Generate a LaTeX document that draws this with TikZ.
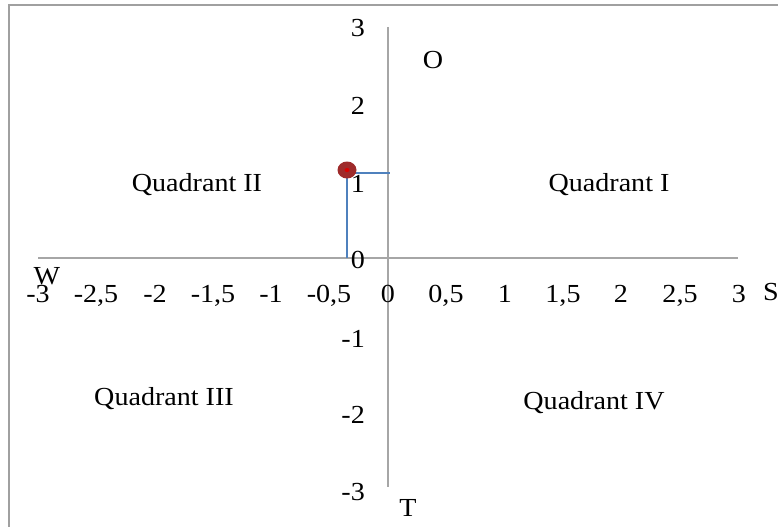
\documentclass[tikz,border=0pt]{standalone}
\usepackage{fontspec}
\usetikzlibrary{shapes.geometric}
\setmainfont{Liberation Serif}[FakeStretch=1.08]
\definecolor{axisgray}{HTML}{A6A6A6}
\definecolor{framegray}{HTML}{A0A0A0}
\definecolor{lineblue}{HTML}{4F81BD}
\definecolor{dotred}{HTML}{9E2A2A}
\begin{document}
\begin{tikzpicture}[x=1pt,y=-1pt,
  lbl/.style={inner sep=0pt,font=\fontsize{26}{30}\selectfont},
  xlbl/.style={lbl,anchor=base},
  ylbl/.style={lbl,anchor=base east},
  axis/.style={draw=axisgray,line width=1.8pt},
  guide/.style={draw=lineblue,line width=1.8pt},
  marker/.style={ellipse,fill=dotred,inner sep=0pt,minimum width=19pt,minimum height=17pt}]
\useasboundingbox (0,0) rectangle (778,527);
% frame
\coordinate (ftr) at (778,5);
\coordinate (ftl) at (9,5);
\coordinate (fbl) at (9,527);
\draw[framegray,line width=2.2pt] (ftr) -- (ftl) -- (fbl);
% axes
\coordinate (xl) at (38,258);
\coordinate (xr) at (738,258);
\coordinate (yt) at (388,27);
\coordinate (yb) at (388,487);
\draw[axis] (xl) -- (xr);
\draw[axis] (yt) -- (yb);
% x tick labels
\foreach \v/\px [count=\i] in {{-3}/38,{-2,5}/96,{-2}/155,{-1,5}/213,{-1}/271,{-0,5}/329,{0}/388,{0,5}/446,{1}/505,{1,5}/563,{2}/621,{2,5}/680,{3}/739}{
  \node[xlbl] (xt\i) at (\px,302) {\v};
}
% y tick labels
\foreach \v/\py [count=\i] in {{3}/37,{2}/114,{1}/192,{0}/268,{-1}/347,{-2}/423,{-3}/500}{
  \node[ylbl] (yl\i) at (365,\py) {\v};
}
% guide lines and point
\coordinate (pb) at (347,258);
\coordinate (pp) at (347,173);
\coordinate (pa) at (390,173);
\draw[guide] (pb) -- (pp) -- (pa);
\node[marker] (dot) at (347,170) {};
\fill[red!85!black] (dot.center) ellipse [x radius=2.5, y radius=2];
% direction letters
\node[lbl] (O) at (433,60) {O};
\node[lbl] (T) at (408,508) {T};
\node[lbl] (W) at (47,276) {W};
\node[lbl] (S) at (771,292) {S};
% quadrants
\node[lbl] (q1) at (609,185) {Quadrant I};
\node[lbl] (q2) at (197,185) {Quadrant II};
\node[lbl] (q3) at (164,399) {Quadrant III};
\node[lbl] (q4) at (594,403) {Quadrant IV};
\end{tikzpicture}
\end{document}
